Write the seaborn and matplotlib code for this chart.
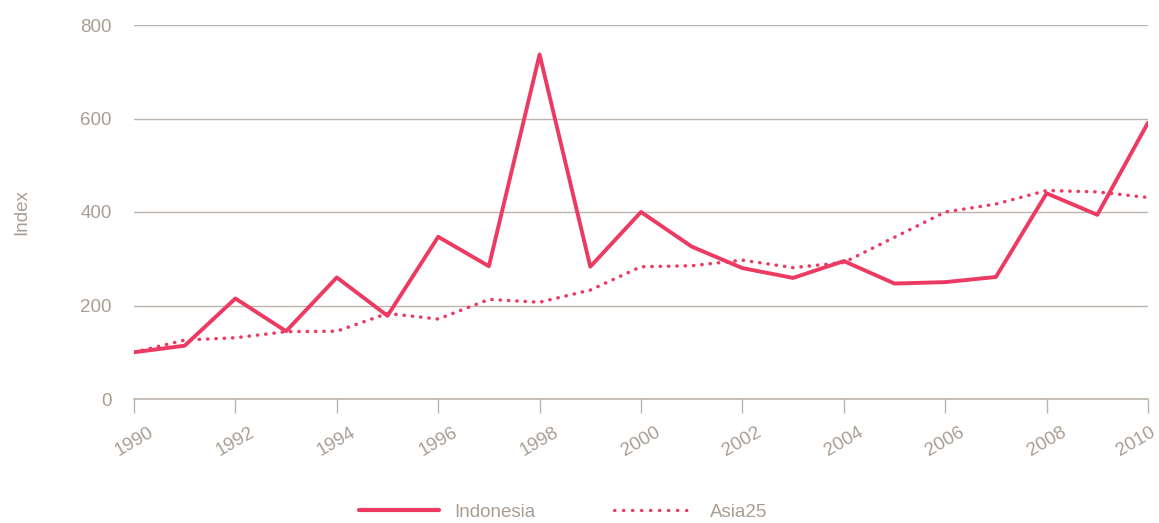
import pandas as pd
import matplotlib.pyplot as plt
import matplotlib.transforms as mtransforms
import seaborn as sns
from matplotlib.lines import Line2D

sns.set_style('white')
plt.rcParams['font.family'] = ['Liberation Sans', 'DejaVu Sans']

years = list(range(1990, 2011))
indonesia = [100, 114, 215, 145, 260, 178, 347, 284, 737, 283, 400,
             326, 280, 259, 295, 247, 250, 261, 440, 394, 591]
asia25 = [100, 126, 131, 144, 145, 183, 171, 213, 207, 233, 283,
          285, 297, 281, 292, 346, 400, 417, 446, 443, 431]
yticks = [0, 200, 400, 600, 800]
xticks = list(range(1990, 2011, 2))

red = '#ec3a62'
txt = '#a99e95'
grid = '#bdb4ad'
fs = 13.5

df = pd.DataFrame({'Year': years, 'Indonesia': indonesia, 'Asia25': asia25})

fig = plt.figure(figsize=(11.59, 5.23), dpi=100)
ax = fig.add_axes([134 / 1159, 1 - 399 / 523, (1148 - 134) / 1159, (399 - 25) / 523])

sns.lineplot(data=df, x='Year', y='Indonesia', color=red, lw=2.8, ax=ax)
sns.lineplot(data=df, x='Year', y='Asia25', color=red, lw=2.5, ax=ax,
             linestyle=(0, (0.1, 2.3)))
ax.lines[1].set_dash_capstyle('round')

ax.set_xlim(1990, 2010)
ax.set_ylim(0, 800)
ax.set_yticks(yticks)
ax.set_xticks(xticks)
ax.set_xticklabels([str(x) for x in xticks], rotation=30, ha='center')
ax.yaxis.grid(True, color=grid, lw=1)
ax.set_axisbelow(True)
for s in ['top', 'right', 'left']:
    ax.spines[s].set_visible(False)
ax.spines['bottom'].set_color(grid)
ax.spines['bottom'].set_linewidth(1.2)
ax.tick_params(axis='x', bottom=True, direction='out', length=10, width=1,
               color=grid, labelcolor=txt, labelsize=fs, pad=8)
ax.tick_params(axis='y', left=False, length=0, labelcolor=txt, labelsize=fs, pad=16)
ax.set_xlabel('')
ax.set_ylabel('Index', color=txt, fontsize=fs, labelpad=36)

# keep the last year label inside the figure
last = ax.get_xticklabels()[-1]
last.set_transform(last.get_transform() + mtransforms.ScaledTranslation(-0.12, 0, fig.dpi_scale_trans))

handles = [Line2D([], [], color=red, lw=3),
           Line2D([], [], color=red, lw=2.4, linestyle=(0, (0.1, 2.6)), dash_capstyle='round')]
fig.legend(handles, ['Indonesia', 'Asia25'], loc='center', bbox_to_anchor=(563 / 1159, 1 - 512 / 523),
           ncol=2, frameon=False, handlelength=4.3, columnspacing=4.2, handletextpad=0.8,
           fontsize=fs, labelcolor=txt)

plt.savefig('out.png', dpi=100)
